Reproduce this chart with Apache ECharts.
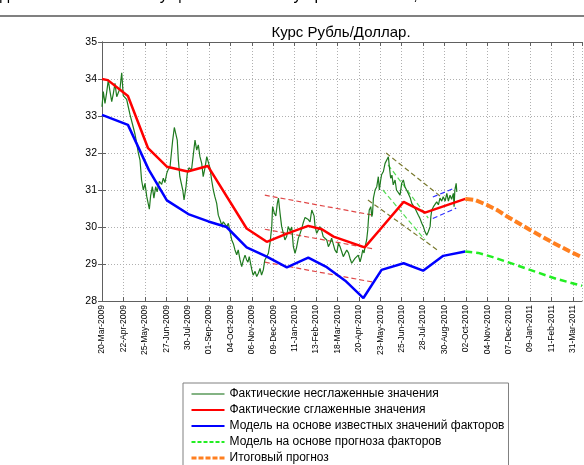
<!DOCTYPE html>
<html>
<head>
<meta charset="utf-8">
<script src="https://cdn.jsdelivr.net/npm/echarts@6/dist/echarts.min.js"></script>
<style>
html,body{margin:0;padding:0;background:#fff;}
#c{width:584px;height:465px;}
</style>
</head>
<body>
<div id="c"></div>
<script>
// x values are days since 20-Mar-2009
var xTickLabels = ['20-Mar-2009','22-Apr-2009','25-May-2009','27-Jun-2009','30-Jul-2009','01-Sep-2009',
  '04-Oct-2009','06-Nov-2009','09-Dec-2009','11-Jan-2010','13-Feb-2010','18-Mar-2010','20-Apr-2010',
  '23-May-2010','25-Jun-2010','28-Jul-2010','30-Aug-2010','02-Oct-2010','04-Nov-2010','07-Dec-2010',
  '09-Jan-2011','11-Feb-2011','31-Mar-2011'];
var seriesNames = ['Фактические несглаженные значения','Фактические сглаженные значения',
  'Модель на основе известных значений факторов','Модель на основе прогноза факторов','Итоговый прогноз'];

var actualRaw = [[0,33.25],[2,33.66],[4.6,33.34],[7,33.61],[9.7,33.97],[12,33.7],[15,33.39],[17.4,33.6],
 [20,33.88],[22.7,33.52],[25,33.55],[27.8,33.75],[30.4,34.17],[32.8,33.55],[35.5,33.52],[38,33.45],
 [40.5,33.25],[43,33.05],[48,32.71],[51,32.5],[53.5,32.26],[56,32.0],[58.6,31.81],[61,31.27],[63.7,31.0],
 [66.3,31.18],[69,30.82],[73,30.48],[75,30.85],[77.6,31.09],[80,30.78],[82.8,31.09],[85,30.95],[88.4,31.23],
 [92,31.15],[94.5,31.32],[97,31.2],[99.8,31.45],[102,31.55],[104.9,31.63],[107,32.0],[109,32.35],
 [111.5,32.69],[114,32.71],[116,32.35],[117.7,31.81],[120,31.36],[124.5,31.0],[126.5,30.73],[129.5,31.09],
 [131.5,31.45],[134,31.6],[138,31.54],[141,31.99],[143.4,32.35],[146,32.08],[148.5,32.22],[151,31.9],
 [153.7,31.72],[156,31.36],[158.8,31.6],[161.5,31.9],[164,31.95],[166.5,31.59],[169,31.27],[171.6,31.0],
 [174,30.82],[176.8,30.64],[179.3,30.32],[182,30.19],[184.6,30.05],[187,30.14],[189.7,30.1],[192.3,30.01],
 [194.8,30.1],[197.4,29.87],[200,29.65],[202.5,29.55],[205,29.38],[207.7,29.25],[210,29.38],[212.8,29.11],
 [215.4,28.93],[218,29.11],[220.5,29.24],[223,29.11],[225,29.05],[227,29.2],[231,28.84],[233,28.7],
 [236,28.8],[238.5,28.66],[241,28.75],[243.6,28.88],[246,28.7],[248.7,28.84],[251,29.11],[254,29.2],
 [256.5,29.29],[259,29.56],[261.7,30.01],[263,30.55],[265.7,30.37],[268,30.3],[270.3,30.64],[272,30.78],
 [274.5,30.37],[277,30.01],[279.6,29.83],[282,29.65],[284.8,29.75],[287,30.01],[290,29.9],[292.5,30.0],
 [295,29.47],[297.6,29.29],[300,29.45],[302.7,29.7],[305,29.8],[307.7,29.95],[310,30.1],[313,30.26],
 [315.7,30.3],[318,30.2],[320.7,30.14],[323.4,30.46],[325,30.5],[327,30.3],[328.5,30.01],[331,29.83],
 [333.5,29.88],[336,30.01],[338.7,29.9],[341,29.74],[344,29.78],[346.5,29.65],[349,29.47],[351.6,29.56],
 [354,29.7],[356.7,29.65],[359,29.38],[362,29.3],[364.4,29.56],[367,29.47],[369.6,29.33],[372,29.2],
 [374.7,29.25],[377.3,29.38],[380,29.3],[382.4,29.15],[385,29.02],[387.5,28.97],[390,29.15],[392.7,29.1],
 [395,29.24],[397.9,29.06],[400,29.2],[402,29.38],[404,29.3],[405.6,29.47],[408,29.65],[409.7,29.92],
 [410.7,30.19],[412,30.46],[414.4,30.55],[416,30.28],[417,30.35],[418.4,30.78],[421,31.0],[423.6,31.09],
 [426,31.36],[427.6,31.0],[429.5,31.25],[431,31.41],[433.8,31.5],[436.4,31.72],[439,31.77],[441.5,31.9],
 [443,31.63],[445,31.32],[447,31.4],[449,31.14],[451.8,31.27],[454,31.0],[457,31.05],[459.5,30.86],
 [462,31.18],[464.6,31.27],[467,31.09],[470,31.1],[472,30.91],[475,30.8],[477.6,30.64],[480,30.68],
 [482.7,30.5],[485,30.45],[487.7,30.32],[490,30.24],[493,30.1],[495.5,30.01],[498,29.87],[500.6,29.78],
 [503,29.87],[505.8,30.01],[507,30.28],[508.4,30.46],[511,30.55],[513.5,30.5],[516,30.68],[518.6,30.6],
 [521,30.78],[523.8,30.7],[526,30.82],[529,30.7],[531.6,30.91],[534,30.7],[536.6,30.86],[539,30.75],
 [541.7,30.91],[542.8,30.55],[544,31.0],[546,31.18],[547,30.95]];

var actualSmooth = [[0,34.0],[9,33.97],[40,33.54],[71,32.13],[100,31.63],[132,31.5],[163,31.65],
 [223,29.96],[254,29.6],[285,29.82],[318,30.03],[339,29.94],[357,29.74],[405,29.45],[428,29.92],
 [465,30.68],[498,30.39],[560,30.76]];

var modelKnown = [[0,33.03],[40,32.76],[72,31.55],[100,30.72],[133,30.35],[164,30.15],[192,30.0],
 [223,29.45],[254,29.2],[285,28.91],[318,29.17],[345,28.93],[375,28.55],[403,28.08],[431,28.84],
 [465,29.02],[495,28.82],[526,29.22],[560,29.34]];

var modelForecast = [[560,29.34],[580,29.3],[600,29.2],[624,29.06],[660,28.84],[700,28.6],[740,28.41]];

var finalForecast = [[560,30.76],[575,30.73],[593,30.6],[610,30.45],[624,30.29],[660,29.92],
 [696,29.57],[720,29.35],[740,29.18]];

// trend channels
var redChannel = [[[251,30.86],[418,30.32]],[[251,29.94],[418,29.41]],[[251,29.05],[418,28.51]]];
var oliveChannel = [[[438,32.0],[521,30.84]],[[410,30.73],[517,29.38]]];
var lightGreenChannel = [[[441,31.68],[503,30.24]],[[433,31.0],[498,29.65]]];
var blueChannel = [[[510,30.81],[546,31.07]],[[510,30.23],[546,30.51]]];

var FONT = '"Liberation Sans", Arial, sans-serif';
var chart = echarts.init(document.getElementById('c'), null, {renderer:'canvas'});

function lineSeries(name, data, color, width, type, z){
  return {name:name, type:'line', data:data, showSymbol:false, symbol:'none', z:z||2,
    lineStyle:{color:color, width:width, type:type||'solid'}, itemStyle:{color:color},
    animation:false, silent:true};
}
function channelSeries(list, color, width, dash){
  return list.map(function(seg){
    return {type:'line', data:seg, showSymbol:false, symbol:'none', z:3, silent:true,
      lineStyle:{color:color, width:width, type:dash}, animation:false};
  });
}

var series = [
  lineSeries(seriesNames[0], actualRaw, '#1f7a1f', 1.2, 'solid', 4),
  lineSeries(seriesNames[1], actualSmooth, '#ff0000', 2.5, 'solid', 5),
  lineSeries(seriesNames[2], modelKnown, '#0000ff', 2.5, 'solid', 5),
  lineSeries(seriesNames[3], modelForecast, '#22ee22', 2.5, [7,4], 5),
  lineSeries(seriesNames[4], finalForecast, '#ff7f1f', 4, [8,3], 5)
].concat(channelSeries(redChannel, '#e04848', 1.2, [5,3]))
 .concat(channelSeries(oliveChannel, '#7a7a30', 1.2, [5,3]))
 .concat(channelSeries(lightGreenChannel, '#55dd55', 1.2, [5,3]))
 .concat(channelSeries(blueChannel, '#3030ff', 1.2, [5,3]));

var legendLine = [
  {color:'#5a9a5a', width:1.5, type:'solid'},
  {color:'#ff0000', width:2, type:'solid'},
  {color:'#0000ff', width:2, type:'solid'},
  {color:'#22ee22', width:2, type:[4,2]},
  {color:'#ff7f1f', width:3, type:[5,2]}
];

var axisColor = '#606060';
var option = {
  backgroundColor:'#ffffff',
  animation:false,
  textStyle:{fontFamily:FONT},
  title:{text:'Курс Рубль/Доллар.', left:336, top:20, textAlign:'center',
    textStyle:{fontFamily:FONT, fontSize:15, fontWeight:'normal', color:'#000'}},
  grid:{left:102, right:2, top:42, bottom:164, containLabel:false},
  legend:{
    data:seriesNames.map(function(n,i){
      return {name:n, itemStyle:{opacity:0}, lineStyle:legendLine[i]};
    }),
    orient:'vertical', left:183, top:383, height:110,
    itemWidth:33, itemHeight:14, itemGap:2,
    padding:[4,4,24,7], borderColor:'#808080', borderWidth:1, backgroundColor:'#fff',
    textStyle:{fontFamily:FONT, fontSize:12, color:'#000', lineHeight:14},
    itemStyle:{opacity:0},
    selectedMode:false
  },
  xAxis:[{
    type:'value', min:0, max:740, interval:33, position:'bottom',
    axisLine:{show:true, lineStyle:{color:axisColor, width:1}},
    axisTick:{show:true, inside:true, length:4, lineStyle:{color:axisColor}},
    axisLabel:{rotate:90, fontSize:8.5, color:'#000', fontFamily:FONT, margin:4,
      showMaxLabel:false,
      formatter:function(v){var i=Math.round(v/33); return (Math.abs(v-i*33)<1e-6 && xTickLabels[i]) ? xTickLabels[i] : '';}},
    splitLine:{show:true, lineStyle:{color:'#b0b0b0', type:[1,2], width:1}}
  },{
    type:'value', min:0, max:740, interval:33, position:'top',
    axisLine:{show:true, lineStyle:{color:axisColor, width:1}},
    axisTick:{show:true, inside:true, length:4, lineStyle:{color:axisColor}},
    axisLabel:{show:false}, splitLine:{show:false}
  }],
  yAxis:[{
    type:'value', min:28, max:35, interval:1, position:'left',
    axisLine:{show:true, lineStyle:{color:axisColor, width:1}},
    axisTick:{show:true, inside:true, length:4, lineStyle:{color:axisColor}},
    axisLabel:{fontSize:10.5, color:'#000', fontFamily:FONT, margin:5},
    splitLine:{show:true, lineStyle:{color:'#b0b0b0', type:[1,2], width:1}}
  },{
    type:'value', min:28, max:35, interval:1, position:'right',
    axisLine:{show:true, lineStyle:{color:axisColor, width:1}},
    axisTick:{show:true, inside:true, length:4, lineStyle:{color:axisColor}},
    axisLabel:{show:false}, splitLine:{show:false}
  }],
  graphic:[
    {type:'text', left:0, top:-12, z:10, style:{text:'достигли или более существенно к нему приближались;',
      font:'16px "Liberation Sans", Arial, sans-serif', fill:'#000'}},
    {type:'rect', left:0, top:15, z:10, shape:{width:584, height:2}, style:{fill:'#808080'}}
  ],
  series: series
};
chart.setOption(option);
</script>
</body>
</html>
